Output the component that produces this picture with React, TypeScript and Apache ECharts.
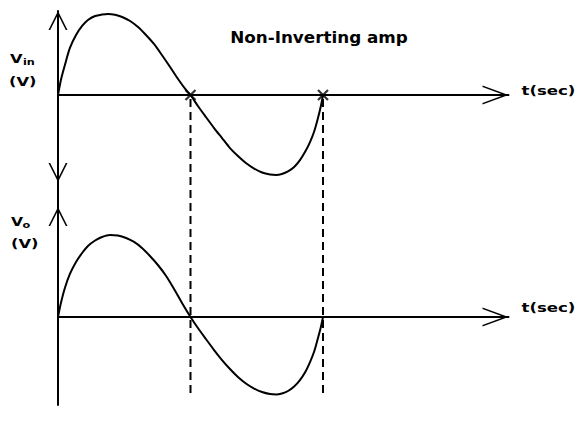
import React, { useEffect, useRef } from "react";
import * as echarts from "echarts";

// Input voltage curve (time in periods, volts normalised)
const vinT = [0, 0.011, 0.026, 0.045, 0.068, 0.091, 0.113, 0.14, 0.166, 0.189, 0.215, 0.242, 0.272, 0.302, 0.332, 0.362, 0.392, 0.423, 0.453, 0.483, 0.5,
  0.528, 0.558, 0.589, 0.619, 0.649, 0.679, 0.709, 0.74, 0.77, 0.8, 0.823, 0.845, 0.868, 0.891, 0.913, 0.932, 0.951, 0.966, 0.981, 0.992, 1.0];
const vinV = [0, 0.188, 0.375, 0.588, 0.75, 0.863, 0.938, 0.988, 1.006, 1.013, 1.003, 0.975, 0.925, 0.85, 0.75, 0.638, 0.5, 0.35, 0.2, 0.063, 0,
  -0.138, -0.275, -0.413, -0.538, -0.663, -0.763, -0.85, -0.919, -0.969, -0.994, -1.0, -0.988, -0.956, -0.9, -0.813, -0.713, -0.588, -0.463, -0.288, -0.138, 0];
// Output voltage curve
const voT = [0, 0.011, 0.026, 0.045, 0.068, 0.091, 0.113, 0.14, 0.166, 0.196, 0.226, 0.257, 0.287, 0.317, 0.347, 0.377, 0.408, 0.438, 0.468, 0.5,
  0.528, 0.558, 0.589, 0.619, 0.649, 0.679, 0.709, 0.74, 0.77, 0.8, 0.823, 0.845, 0.868, 0.891, 0.913, 0.932, 0.951, 0.966, 0.981, 0.992, 1.0];
const voV = [0, 0.175, 0.363, 0.538, 0.688, 0.8, 0.888, 0.956, 1.0, 1.025, 1.019, 0.988, 0.938, 0.863, 0.763, 0.65, 0.513, 0.35, 0.175, 0,
  -0.138, -0.275, -0.413, -0.538, -0.65, -0.75, -0.831, -0.894, -0.938, -0.963, -0.969, -0.956, -0.925, -0.869, -0.788, -0.694, -0.563, -0.438, -0.263, -0.125, 0];
// Zero crossings marked on the input axis
const crossingsT = [0.5, 1.0];
const dashBottomV = -1.0;

const titleText = "Non-Inverting amp";
const xLabel = "t(sec)";
const vinLabel = ["V", "in", "(V)"];
const voLabel = ["V", "o", "(V)"];

const T_MAX = 1.7;
const VIN_RANGE = [-1.0875, 1.05];
const VO_RANGE = [-1.1, 1.375];

export default function App() {
  const ref = useRef<HTMLDivElement>(null);
  useEffect(() => {
    document.body.style.margin = "0";
    const chart = echarts.init(ref.current!, null, { renderer: "svg" });
    const black = "#000";
    const hArrow = "path://M9.5,0L19,26L17.4,26L9.5,4.4L1.6,26L0,26Z";
    const vArrow = "path://M9.5,0L19,19L17.3,19L9.5,3.4L1.7,19L0,19Z";
    const hidden = {
      axisTick: { show: false },
      axisLabel: { show: false },
      splitLine: { show: false },
    };
    const xAxisFor = (gi: number) => ({
      gridIndex: gi,
      type: "value",
      min: 0,
      max: T_MAX,
      axisLine: {
        show: true,
        onZero: true,
        lineStyle: { color: black, width: 2 },
        symbol: ["none", hArrow],
        symbolSize: [19, 26],
        symbolOffset: [0, -13],
      },
      ...hidden,
    });
    const font = (size: number) => `bold ${size}px "DejaVu Sans"`;

    chart.setOption({
      animation: false,
      grid: [
        { left: 58, top: 11, width: 450.5, height: 171 },
        { left: 58, top: 207, width: 450.5, height: 198 },
      ],
      xAxis: [xAxisFor(0), xAxisFor(1)],
      yAxis: [
        {
          gridIndex: 0,
          type: "value",
          min: VIN_RANGE[0],
          max: VIN_RANGE[1],
          axisLine: {
            show: true,
            onZero: true,
            lineStyle: { color: black, width: 2 },
            symbol: [vArrow, vArrow],
            symbolSize: [19, 19],
            symbolOffset: [9.5, -9.5],
          },
          ...hidden,
        },
        {
          gridIndex: 1,
          type: "value",
          min: VO_RANGE[0],
          max: VO_RANGE[1],
          axisLine: {
            show: true,
            onZero: true,
            lineStyle: { color: black, width: 2 },
            symbol: ["none", vArrow],
            symbolSize: [19, 19],
            symbolOffset: [0, -9.5],
          },
          ...hidden,
        },
      ],
      series: [
        {
          type: "line",
          xAxisIndex: 0,
          yAxisIndex: 0,
          data: vinT.map((t, i) => [t, vinV[i]]),
          smooth: 0.3,
          showSymbol: false,
          lineStyle: { color: black, width: 2 },
          z: 5,
        },
        {
          type: "line",
          xAxisIndex: 1,
          yAxisIndex: 1,
          data: voT.map((t, i) => [t, voV[i]]),
          smooth: 0.3,
          showSymbol: false,
          lineStyle: { color: black, width: 2 },
          z: 5,
        },
        {
          type: "scatter",
          xAxisIndex: 0,
          yAxisIndex: 0,
          data: crossingsT.map((t) => [t, 0]),
          symbol: "path://M0,0L10,10M10,0L0,10",
          symbolSize: 10,
          itemStyle: { color: "transparent", borderColor: black, borderWidth: 2.2 },
          z: 6,
        },
      ],
    });

    const p0 = (t: number, v: number) => chart.convertToPixel({ gridIndex: 0 }, [t, v]) as number[];
    const p1 = (t: number, v: number) => chart.convertToPixel({ gridIndex: 1 }, [t, v]) as number[];

    const topBottom = p0(0, VIN_RANGE[0]);
    const bottomTop = p1(0, VO_RANGE[1]);
    const graphics: any[] = [
      {
        type: "line",
        shape: { x1: topBottom[0], y1: topBottom[1], x2: bottomTop[0], y2: bottomTop[1] },
        style: { stroke: black, lineWidth: 2 },
      },
    ];
    crossingsT.forEach((t) => {
      const a = p0(t, 0);
      const b = p1(t, dashBottomV);
      graphics.push({
        type: "line",
        shape: { x1: a[0], y1: a[1] + 4, x2: b[0], y2: b[1] },
        style: { stroke: black, lineWidth: 2, lineDash: [8, 5] },
      });
    });
    const axisEnd0 = p0(T_MAX, 0);
    const axisEnd1 = p1(T_MAX, 0);
    const txt = (text: string, x: number, y: number, size: number, align: string, sx: number) => ({
      type: "text",
      x,
      y,
      scaleX: sx,
      style: {
        text,
        font: font(size),
        fill: black,
        textAlign: align,
        textVerticalAlign: "middle",
        align,
        verticalAlign: "middle",
      },
    });
    graphics.push(txt(titleText, 319, 38, 15, "center", 1.12));
    graphics.push(txt(xLabel, axisEnd0[0] + 13, axisEnd0[1] - 4, 12, "left", 1.38));
    graphics.push(txt(xLabel, axisEnd1[0] + 13, axisEnd1[1] - 9, 12, "left", 1.38));
    graphics.push(txt(vinLabel[0], 10, 59, 12, "left", 1.35));
    graphics.push(txt(vinLabel[1], 23, 61.5, 9, "left", 1.25));
    graphics.push(txt(vinLabel[2], 9, 81, 13, "left", 1.25));
    graphics.push(txt(voLabel[0], 11, 222, 12, "left", 1.3));
    graphics.push(txt(voLabel[1], 22.5, 224.5, 9, "left", 1.25));
    graphics.push(txt(voLabel[2], 11, 243, 13, "left", 1.25));

    chart.setOption({ graphic: graphics });

    return () => chart.dispose();
  }, []);
  return <div ref={ref} style={{ width: 578, height: 433 }} />;
}
